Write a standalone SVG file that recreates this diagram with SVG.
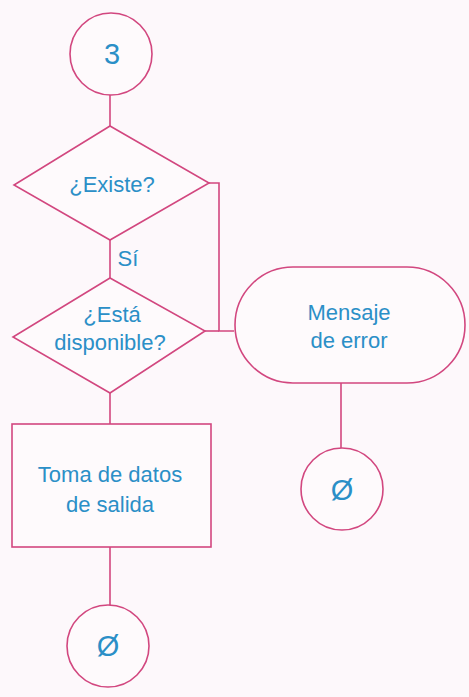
<svg xmlns="http://www.w3.org/2000/svg" width="469" height="697" viewBox="0 0 469 697">
<style>
.s{fill:none;stroke:#d2477f;stroke-width:1.6}
.f{fill:#fefafc;stroke:#d2477f;stroke-width:1.6}
.t{font-family:"Liberation Sans",Arial,sans-serif;fill:#2b8fc7;text-anchor:middle;font-size:22px}
.b{font-size:29px}
</style>
<rect width="469" height="697" fill="#fdf8fb"/>
<g id="connectors" class="s">
<line x1="110" y1="95" x2="110" y2="126"/>
<line x1="110" y1="240" x2="110" y2="278"/>
<polyline points="209,183 219,183 219,331 234,331"/>
<line x1="205" y1="331" x2="219" y2="331"/>
<line x1="110" y1="393" x2="110" y2="424"/>
<line x1="110" y1="547" x2="110" y2="605"/>
<line x1="341" y1="383" x2="341" y2="448"/>
</g>
<g id="start">
<circle class="f" cx="111" cy="54" r="41"/>
<text class="t b" x="112" y="64">3</text>
</g>
<g id="existe">
<polygon class="f" points="110,126 209,183 110,240 14,185"/>
<text class="t" x="112" y="192">¿Existe?</text>
</g>
<text class="t" x="128" y="266">Sí</text>
<g id="disponible">
<polygon class="f" points="110,278 205,331 110,393 13,337"/>
<text class="t" x="112" y="322">¿Está</text>
<text class="t" x="110" y="350">disponible?</text>
</g>
<g id="mensaje">
<rect class="f" x="235" y="267" width="230" height="116" rx="58" ry="58"/>
<text class="t" x="349" y="320">Mensaje</text>
<text class="t" x="349" y="348">de error</text>
</g>
<g id="toma">
<rect class="f" x="12" y="424" width="199" height="123"/>
<text class="t" x="110" y="482">Toma de datos</text>
<text class="t" x="110" y="512">de salida</text>
</g>
<g id="end1">
<circle class="f" cx="108" cy="646" r="41"/>
<text class="t b" x="108" y="656">Ø</text>
</g>
<g id="end2">
<circle class="f" cx="342" cy="489" r="41"/>
<text class="t b" x="342" y="500">Ø</text>
</g>
</svg>
